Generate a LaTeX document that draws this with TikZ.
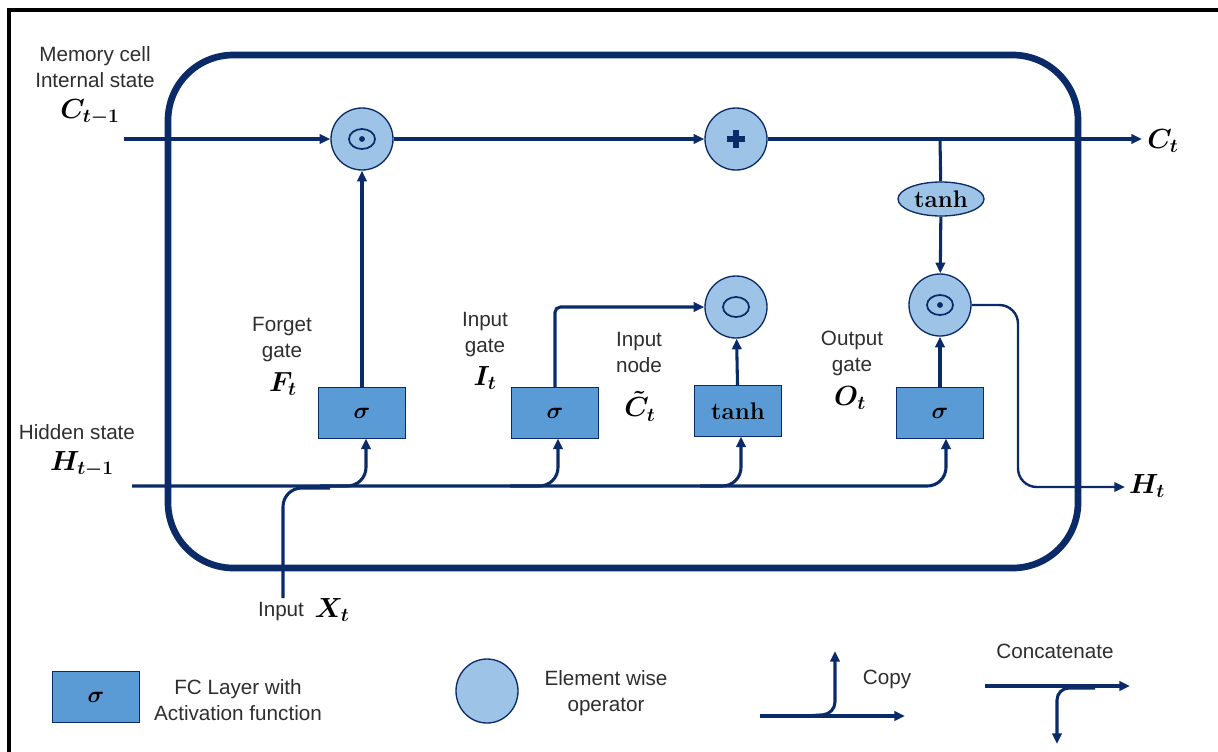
\documentclass[tikz,border=0pt]{standalone}
\usepackage{amsmath}
\usepackage{fontspec}
\setmainfont{Liberation Sans}
\newfontfamily\lmrfont{Latin Modern Roman}
\usetikzlibrary{arrows.meta,shapes.geometric}
\definecolor{navy}{HTML}{0B2A68}
\definecolor{circfill}{HTML}{9DC3E6}
\definecolor{boxfill}{HTML}{5B9BD5}
\definecolor{txt}{HTML}{2E2E2E}
\newcommand{\tanhtxt}{{\lmrfont\bfseries tanh}}
\begin{document}
\begin{tikzpicture}[x=0.75pt,y=-0.75pt,
  conn/.style={draw=navy,line width=2.3pt},
  arr/.style={conn,-{Triangle[length=8pt,width=7pt]}},
  thinarr/.style={draw=navy,line width=1.8pt,-{Triangle[length=8pt,width=7pt]}},
  op/.style={circle,draw=navy,line width=1pt,fill=circfill,minimum size=46.5pt,inner sep=0pt},
  fc/.style={rectangle,draw=navy,line width=1pt,fill=boxfill,minimum width=65pt,minimum height=38pt,inner sep=0pt},
  lbl/.style={text=txt,font=\fontsize{15.5}{19.5}\selectfont,align=center,inner sep=1pt},
  ml/.style={font=\fontsize{20}{22}\selectfont,inner sep=0.5pt},
  inml/.style={font=\fontsize{18}{20}\selectfont},
  odot/.style={draw=navy,line width=1.3pt}
]
\useasboundingbox (0,0) rectangle (1218,751);
% outer frame
\draw[black,line width=2.4pt] (9,900) -- (9,10) -- (1400,10);
% big cell
\draw[navy,line width=5pt,rounded corners=49pt] (168,55) rectangle (1078,568);

% operators
\node[op] (mulf) at (362,139) {};
\node[op] (add) at (736,139) {};
\node[op] (muli) at (736,307) {};
\node[op] (mulo) at (940,305) {};
\node[ellipse,draw=navy,line width=1pt,fill=circfill,minimum width=64.5pt,minimum height=25.5pt,inner sep=0pt,font=\fontsize{18}{20}\selectfont] (tanhc) at (941,199) {\tanhtxt};

\draw[odot] (mulf.center) ellipse [x radius=9.75pt, y radius=7.5pt];
\fill[navy] (mulf.center) circle [radius=2.2pt];
\draw[odot] (muli.center) ellipse [x radius=9.75pt, y radius=7.5pt];
\draw[odot] (mulo.center) ellipse [x radius=9.75pt, y radius=7.5pt];
\fill[navy] (mulo.center) circle [radius=2.2pt];
\draw[navy,line width=4pt] ([xshift=-6.5pt]add.center) -- ([xshift=6.5pt]add.center);
\draw[navy,line width=4pt] ([yshift=-6.5pt]add.center) -- ([yshift=6.5pt]add.center);

% FC layers
\node[fc,inml] (fgate) at (362,413) {$\boldsymbol{\sigma}$};
\node[fc,inml] (igate) at (555,413) {$\boldsymbol{\sigma}$};
\node[fc,inml] (cnode) at (738,411) {\tanhtxt};
\node[fc,inml] (ogate) at (940,413) {$\boldsymbol{\sigma}$};

% cell state line
\coordinate (cin) at (124,139);
\coordinate (cout) at (1142,139);
\coordinate (cbr) at (940,139);
\draw[arr] (cin) -- (mulf);
\draw[arr] (mulf) -- (add);
\draw[arr] (add) -- (cout);
\draw[conn] (cbr) -- (tanhc);
\draw[arr] (tanhc) -- (mulo);

% gates to operators
\draw[arr] (fgate) -- (mulf);
\draw[arr,rounded corners=4pt] (igate.north) |- (muli);
\draw[arr] (cnode) -- (muli);
\draw[arr] (ogate) -- (mulo);

% output hidden
\coordinate (hout) at (1125,487);
\draw[thinarr,rounded corners=14pt] (mulo.east) -- (1018,305) -- (1018,487) -- (hout);

% hidden state input line and branches
\coordinate (hin) at (132,486);
\coordinate (fb) at (366,438.5);
\coordinate (ib) at (558,438.5);
\coordinate (cb) at (741,436.5);
\coordinate (ob) at (946,438.5);
\draw[arr,rounded corners=14pt] (hin) -- (946,486) -- (ob);
\draw[arr,rounded corners=14pt] (320,486) -- (366,486) -- (fb);
\draw[arr,rounded corners=14pt] (510,486) -- (558,486) -- (ib);
\draw[arr,rounded corners=14pt] (700,486) -- (741,486) -- (cb);
% input X_t
\coordinate (xin) at (283,598);
\draw[conn,rounded corners=14pt] (xin) -- (283,488) -- (330,488);

% labels
\node[lbl] (memlbl) at (95,67) {Memory cell\\Internal state};
\node[ml] (ctm1) at (90,112) {$\boldsymbol{C_{t-1}}$};
\node[ml] (ctl) at (1163,141) {$\boldsymbol{C_t}$};
\node[lbl] (fl) at (282,340) {Forget\\gate};
\node[ml] (ftl) at (283,384) {$\boldsymbol{F_t}$};
\node[lbl] (il) at (485,335) {Input\\gate};
\node[ml] (itl) at (485,378) {$\boldsymbol{I_t}$};
\node[lbl] (nl) at (639,352) {Input\\node};
\node[ml] (ctil) at (640,406) {$\boldsymbol{\tilde{C}_t}$};
\node[lbl] (ol) at (852,353) {Output\\gate};
\node[ml] (otl) at (850,398) {$\boldsymbol{O_t}$};
\node[lbl] (hl) at (77,432) {Hidden state};
\node[ml] (htm1) at (82,464) {$\boldsymbol{H_{t-1}}$};
\node[ml] (htl) at (1147,486) {$\boldsymbol{H_t}$};
\node[lbl] (xl) at (281,612) {Input};
\node[ml] (xtl) at (332,610) {$\boldsymbol{X_t}$};

% legend
\node[fc,inml] (lgbox) at (96,697) {$\boldsymbol{\sigma}$};
\node[lbl] (lgboxl) at (238,700) {FC Layer with\\Activation function};
\node[ellipse,draw=navy,line width=1pt,fill=circfill,minimum width=46.5pt,minimum height=48pt,inner sep=0pt] (lgop) at (487,691) {};
\node[lbl] (lgopl) at (606,693) {Element wise\\operator};
\coordinate (cpa) at (760,716);
\coordinate (cpb) at (905,716);
\coordinate (cpc) at (835,651);
\draw[arr] (cpa) -- (cpb);
\draw[arr,rounded corners=9pt] (805,716) -- (835,714) -- (cpc);
\node[lbl] (cpl) at (887,679) {Copy};
\node[lbl] (ccl) at (1055,651) {Concatenate};
\coordinate (cca) at (985,686);
\coordinate (ccb) at (1130,686);
\coordinate (ccc) at (1057,744);
\draw[arr] (cca) -- (ccb);
\draw[arr,rounded corners=9pt] (1095,688) -- (1057,688) -- (ccc);
\end{tikzpicture}
\end{document}
